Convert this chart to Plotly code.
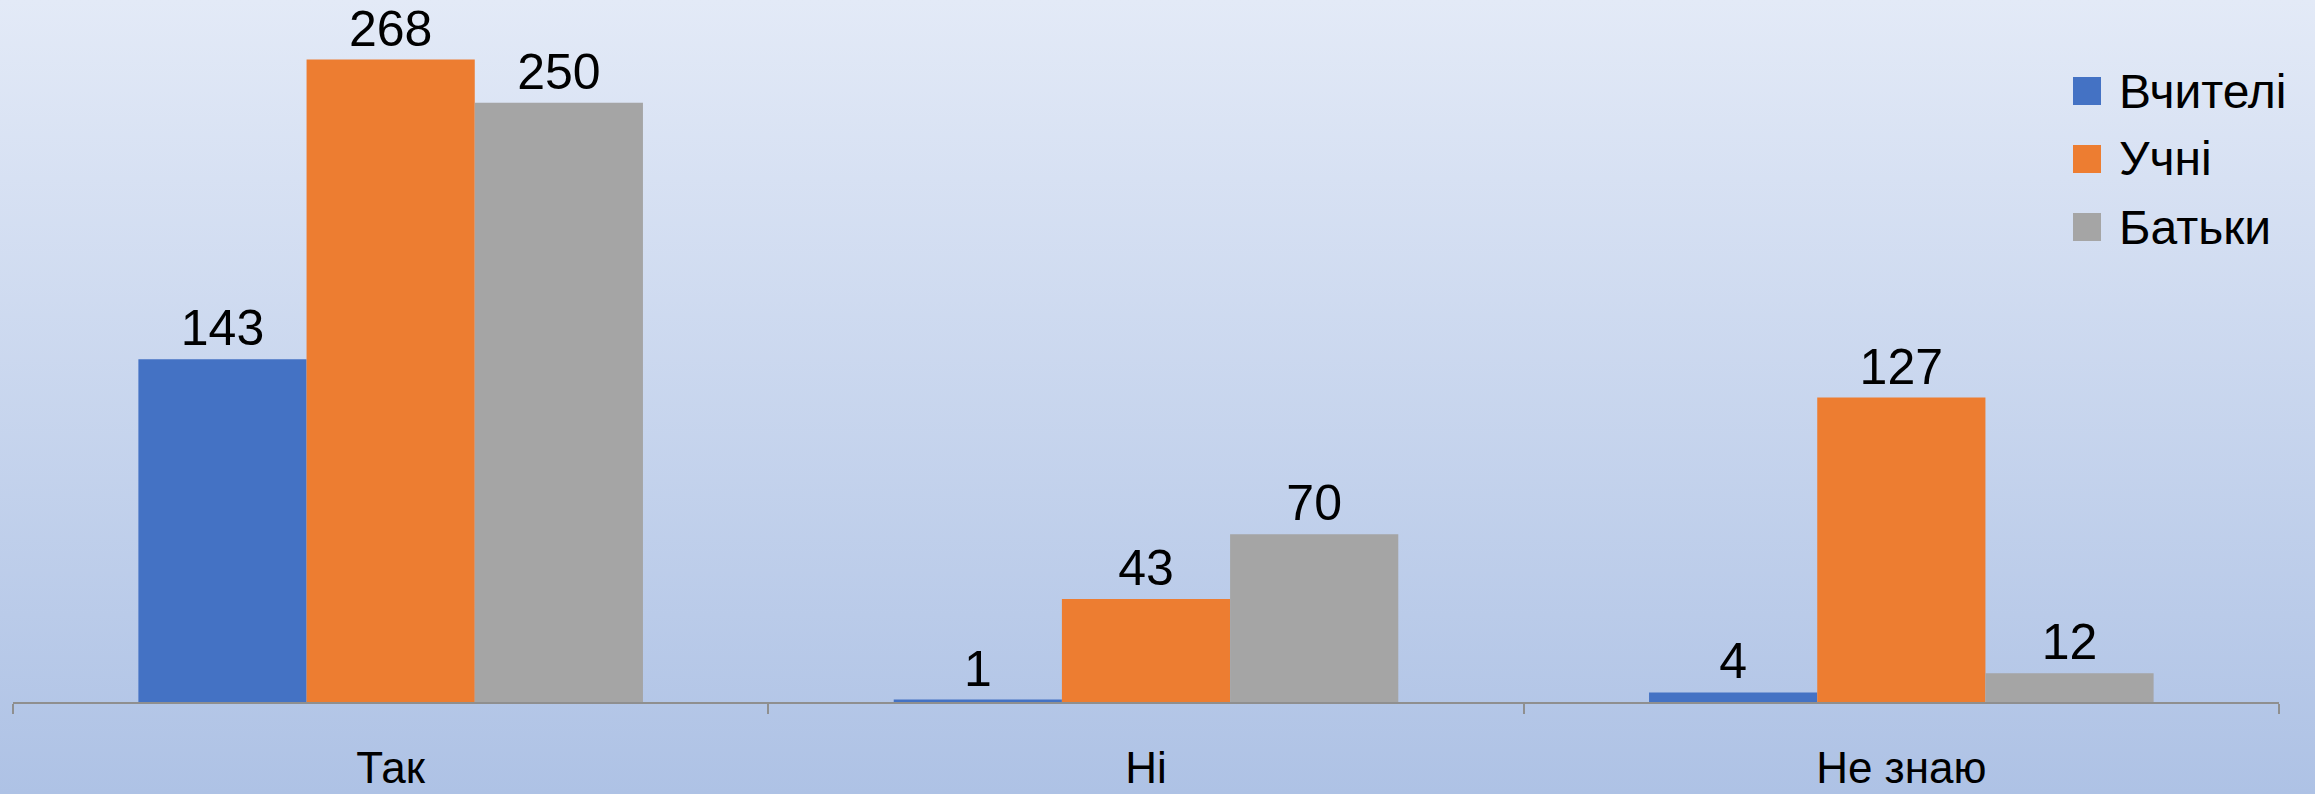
import base64

import plotly.graph_objects as go

# Survey answers by group
categories = ["Так", "Ні", "Не знаю"]
series_names = ["Вчителі", "Учні", "Батьки"]
teachers = [143, 1, 4]
students = [268, 43, 127]
parents = [250, 70, 12]

COLORS = ["#4472c4", "#ed7d31", "#a5a5a5"]
FONT = "Arial, 'Liberation Sans', sans-serif"

W, H = 2315, 794
MARGIN = {"l": 13, "r": 36, "t": 0, "b": 92}
PLOT_W = W - MARGIN["l"] - MARGIN["r"]
PLOT_H = H - MARGIN["t"] - MARGIN["b"]
PX_PER_UNIT = 2.397


def px_x(px):
    return (px - MARGIN["l"]) / PLOT_W


def px_y(py):
    return 1 - (py - MARGIN["t"]) / PLOT_H


# soft vertical gradient like the office chart background
svg = (
    '<svg xmlns="http://www.w3.org/2000/svg" width="100" height="100" preserveAspectRatio="none">'
    '<defs><linearGradient id="g" x1="0" y1="0" x2="0" y2="1">'
    '<stop offset="0" stop-color="#e3eaf7"/><stop offset="1" stop-color="#aec2e5"/>'
    "</linearGradient></defs>"
    '<rect width="100" height="100" fill="url(#g)"/></svg>'
)
bg_uri = "data:image/svg+xml;base64," + base64.b64encode(svg.encode()).decode()

fig = go.Figure()
for name, values, color in zip(series_names, [teachers, students, parents], COLORS):
    fig.add_trace(
        go.Bar(
            name=name,
            x=categories,
            y=values,
            marker={"color": color, "line": {"width": 0}},
            text=values,
            textposition="outside",
            textfont={"family": FONT, "size": 50, "color": "#000000"},
            cliponaxis=False,
            constraintext="none",
            showlegend=False,
        )
    )

# legend drawn by hand so the swatches can be as large as the original
shapes = []
annotations = []
for i, (name, color) in enumerate(zip(series_names, COLORS)):
    cy = 91 + 68 * i
    shapes.append(
        dict(
            type="rect", xref="paper", yref="paper",
            x0=px_x(2073), x1=px_x(2101), y0=px_y(cy + 14), y1=px_y(cy - 14),
            fillcolor=color, line={"width": 0},
        )
    )
    annotations.append(
        dict(
            xref="paper", yref="paper", x=px_x(2117), y=px_y(cy),
            xanchor="left", yanchor="middle", text=name, showarrow=False,
            font={"family": FONT, "size": 48, "color": "#000000"},
        )
    )

fig.update_layout(
    width=W,
    height=H,
    margin=MARGIN,
    paper_bgcolor="#c8d5ee",
    plot_bgcolor="rgba(0,0,0,0)",
    barmode="group",
    bargap=0.332,
    bargroupgap=0,
    showlegend=False,
    shapes=shapes,
    annotations=annotations,
    images=[
        dict(
            source=bg_uri, xref="paper", yref="paper",
            x=px_x(0), y=px_y(0), sizex=W / PLOT_W, sizey=H / PLOT_H,
            xanchor="left", yanchor="top", sizing="stretch", layer="below",
        )
    ],
    xaxis=dict(
        automargin=False,
        showline=True,
        linecolor="#8f8f8f",
        linewidth=2,
        ticks="outside",
        tickson="boundaries",
        ticklen=10,
        tickwidth=2,
        tickcolor="#8f8f8f",
        tickfont={"family": FONT, "size": 44, "color": "#000000"},
        ticklabelstandoff=26,
        showgrid=False,
        zeroline=False,
    ),
    yaxis=dict(
        automargin=False,
        range=[0, PLOT_H / PX_PER_UNIT],
        visible=False,
        showgrid=False,
        zeroline=False,
    ),
)

# the page's default body margin would push the chart 8px off the window
fig.write_html(
    "out.html",
    config={"displayModeBar": False},
    post_script="document.body.style.margin = '0px';",
)
